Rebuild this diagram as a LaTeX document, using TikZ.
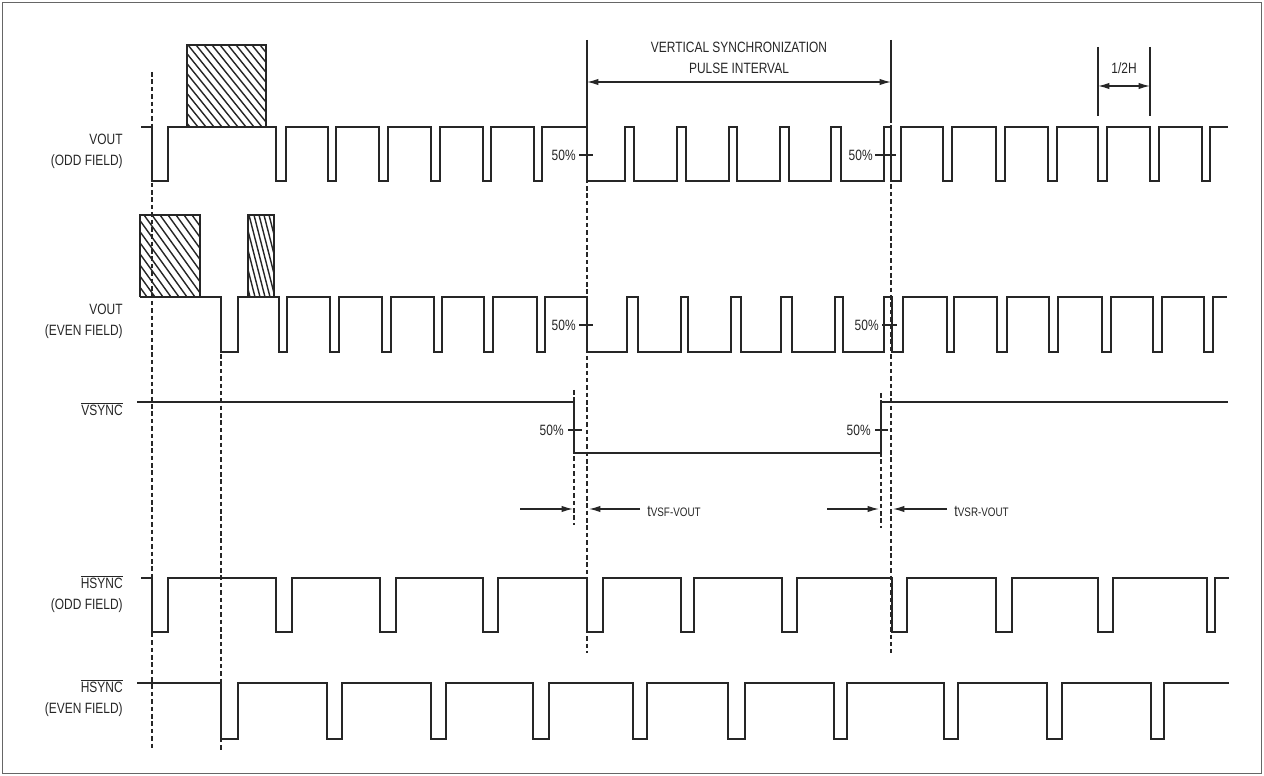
\documentclass[tikz,border=0pt]{standalone}
\usepackage{fontspec}
\setmainfont{Liberation Sans}[FakeStretch=0.8]
\usetikzlibrary{arrows.meta}
\begin{document}
\begin{tikzpicture}[x=0.02cm,y=-0.02cm,
  ink/.style={color=black!85},
  wave/.style={ink,line width=0.8pt,line join=miter},
  guide/.style={ink,line width=0.7pt,dash pattern=on 2.6pt off 1.6pt},
  solidguide/.style={ink,line width=0.7pt},
  hatch/.style={ink,line width=0.8pt},
  lbl/.style={ink,font=\fontsize{8.5}{10}\selectfont,inner sep=0pt},
  siglbl/.style={lbl,anchor=east,align=right},
  pct/.style={lbl,anchor=east},
  tick/.style={ink,line width=0.7pt},
  dimarrow/.style={ink,line width=0.7pt,-{Latex[length=6.5pt,width=3.6pt]}},
  dimboth/.style={ink,line width=0.7pt,{Latex[length=6.5pt,width=3.6pt]}-{Latex[length=6.5pt,width=3.6pt]}}
]
\useasboundingbox (0,0) rectangle (1264,776);
\draw[black!60,line width=0.6pt] (2.5,2.5) rectangle (1261.5,773.5);

% ---------- hatched boxes ----------
\begin{scope}
  \clip (187,45) rectangle (266,127);
  \foreach \x in {116,124,...,266} \draw[hatch] (\x,45) -- ++(66,82);
\end{scope}
\draw[wave] (187,127) |- (266,45) -- (266,127);
\begin{scope}
  \clip (140,215) rectangle (200,297);
  \foreach \x in {80,88,...,200} \draw[hatch] (\x,215) -- ++(59,82);
\end{scope}
\draw[wave] (140,297) |- (200,215) -- (200,297);
\begin{scope}
  \clip (248,215) rectangle (274,297);
  \foreach \x in {224,229,...,274} \draw[hatch] (\x,215) -- ++(21,82);
\end{scope}
\draw[wave] (248,297) |- (274,215) -- (274,297);

% ---------- guide lines ----------
\draw[guide] (152,72) -- (152,748);
\draw[guide] (221,354) -- (221,750);
\draw[solidguide] (587,40) -- (587,127);
\draw[guide] (587,127) -- (587,653);
\draw[solidguide] (891,40) -- (891,118);
\draw[guide] (891,118) -- (891,653);
\draw[guide] (574,390) -- (574,525);
\draw[guide] (881,393) -- (881,528);
\draw[solidguide] (1098,47) -- (1098,116);
\draw[solidguide] (1150,47) -- (1150,116);

% ---------- waveforms ----------
\draw[wave] (141,127) -| (152,181) -| (168,127) -| (276,181) -| (286,127) -| (328,181) -| (336,127) -| (379,181) -| (388,127) -| (431,181) -| (440,127) -| (483,181) -| (491,127) -| (534,181) -| (542,127) -| (587,181) -| (625,127) -| (634,181) -| (677,127) -| (686,181) -| (729,127) -| (737,181) -| (780,127) -| (789,181) -| (831,127) -| (841,181) -| (884,127) -| (891,181) -| (901,127) -| (943,181) -| (952,127) -| (996,181) -| (1005,127) -| (1048,181) -| (1057,127) -| (1098,181) -| (1107,127) -| (1150,181) -| (1159,127) -| (1202,181) -| (1210,127) -- (1228,127);

\draw[wave] (140,297) -| (221,352) -| (238,297) -| (279,352) -| (287,297) -| (330,352) -| (339,297) -| (382,352) -| (391,297) -| (434,352) -| (442,297) -| (484,352) -| (493,297) -| (537,352) -| (545,297) -| (587,352) -| (627,297) -| (638,352) -| (681,297) -| (688,352) -| (731,297) -| (741,352) -| (781,297) -| (792,352) -| (835,297) -| (843,352) -| (884,297) -| (892,352) -| (903,297) -| (947,352) -| (954,297) -| (997,352) -| (1007,297) -| (1049,352) -| (1058,297) -| (1102,352) -| (1111,297) -| (1153,352) -| (1162,297) -| (1204,352) -| (1213,297) -- (1227,297);

\draw[wave] (137,402) -| (574,453) -| (881,402) -- (1228,402);

\draw[wave] (141,578) -| (152,632) -| (168,578) -| (276,632) -| (292,578) -| (380,632) -| (396,578) -| (483,632) -| (498,578) -| (587,632) -| (603,578) -| (681,632) -| (694,578) -| (782,632) -| (797,578) -| (892,632) -| (907,578) -| (996,632) -| (1012,578) -| (1098,632) -| (1113,578) -| (1207,632) -| (1215,578) -- (1229,578);

\draw[wave] (137,683) -| (221,739) -| (238,683) -| (327,739) -| (342,683) -| (431,739) -| (446,683) -| (533,739) -| (549,683) -| (633,739) -| (647,683) -| (728,739) -| (745,683) -| (834,739) -| (847,683) -| (944,739) -| (958,683) -| (1047,739) -| (1062,683) -| (1151,739) -| (1164,683) -- (1229,683);

% ---------- 50% marks ----------
\node[pct] (p1) at (576,155) {50\%};  \draw[tick] (579,155) -- (593,155);
\node[pct] (p2) at (873,155) {50\%};  \draw[tick] (875,155) -- (896,155);
\node[pct] (p3) at (576,325) {50\%};  \draw[tick] (579,325) -- (593,325);
\node[pct] (p4) at (879,325) {50\%};  \draw[tick] (882,325) -- (897,325);
\node[pct] (p5) at (564,430) {50\%};  \draw[tick] (568,430) -- (582,430);
\node[pct] (p6) at (871,430) {50\%};  \draw[tick] (875,430) -- (888,430);

% ---------- dimension arrows ----------
\coordinate (vsL) at (587,82); \coordinate (vsR) at (891,82);
\draw[dimboth] (vsL) -- (vsR);
\node[lbl,align=center] (vsp) at (739,58) {VERTICAL SYNCHRONIZATION\\[2pt]PULSE INTERVAL};
\coordinate (hhL) at (1098,86); \coordinate (hhR) at (1150,86);
\draw[dimboth] (hhL) -- (hhR);
\node[lbl] (hh) at (1124,68) {1/2H};

\coordinate (a1s) at (520,509); \coordinate (a1e) at (573,509);
\coordinate (a2s) at (640,509); \coordinate (a2e) at (589,509);
\coordinate (a3s) at (827,509); \coordinate (a3e) at (879,509);
\coordinate (a4s) at (947,509); \coordinate (a4e) at (893,509);
\draw[dimarrow] (a1s) -- (a1e);
\draw[dimarrow] (a2s) -- (a2e);
\draw[dimarrow] (a3s) -- (a3e);
\draw[dimarrow] (a4s) -- (a4e);
\node[lbl,anchor=west] (tvsf) at (647,511) {{\fontsize{9}{10}\selectfont t}{\fontsize{7}{8}\selectfont VSF-VOUT}};
\node[lbl,anchor=west] (tvsr) at (954,511) {{\fontsize{9}{10}\selectfont t}{\fontsize{7}{8}\selectfont VSR-VOUT}};

% ---------- signal labels ----------
\node[siglbl] (l1) at (123,151) {VOUT\\[2pt](ODD FIELD)};
\node[siglbl] (l2) at (123,321) {VOUT\\[2pt](EVEN FIELD)};
\node[siglbl] (l3) at (123,409) {$\overline{\mbox{VSYNC}}$};
\node[siglbl] (l4) at (123,594) {$\overline{\mbox{HSYNC}}$\\[2pt](ODD FIELD)};
\node[siglbl] (l5) at (123,698) {$\overline{\mbox{HSYNC}}$\\[2pt](EVEN FIELD)};
\end{tikzpicture}
\end{document}
